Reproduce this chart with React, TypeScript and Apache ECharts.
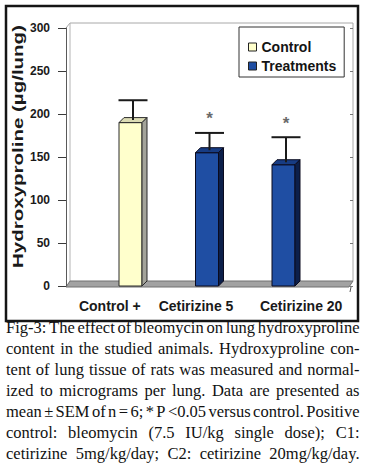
import React, { useEffect, useRef } from "react";
import * as echarts from "echarts";

const categories = ["Control +", "Cetirizine 5", "Cetirizine 20"];
const means = [190, 155, 141];
const sems = [26, 23, 32];
const significant = [false, true, true];
const groups = ["Control", "Treatments", "Treatments"];
const legendNames = ["Control", "Treatments"];
const yMin = 0;
const yMax = 300;
const yInterval = 50;
const yTitle = "Hydroxyproline (µg/lung)";
const captionLines = [
  "Fig-3: The effect of bleomycin on lung hydroxyproline",
  "content in the studied animals. Hydroxyproline con-",
  "tent of lung tissue of rats was measured and normal-",
  "ized to micrograms per lung. Data are presented as",
  "mean ± SEM of n = 6; * P <0.05 versus control. Positive",
  "control: bleomycin (7.5 IU/kg single dose); C1:",
  "cetirizine 5mg/kg/day; C2: cetirizine 20mg/kg/day.",
];

const COLORS: Record<string, { front: string; top: string; side: string; line: string }> = {
  Control: { front: "#FFFFCC", top: "#DCDCB4", side: "#A4A49A", line: "#2a2a2a" },
  Treatments: { front: "#1F4EA3", top: "#173C84", side: "#0C1F4A", line: "#0a0a1e" },
};

const SANS = "'Liberation Sans', Arial, sans-serif";
const SERIF = "'Liberation Serif', 'Times New Roman', serif";

// layout
const W = 365;
const G_LEFT = 66;
const G_RIGHT_X = 353;
const G_TOP = 28;
const G_BOTTOM_Y = 286;
const DX = 5;
const DY = -5;

let ctx: CanvasRenderingContext2D | null = null;
function measure(text: string, font: string) {
  if (!ctx) ctx = document.createElement("canvas").getContext("2d");
  if (!ctx) return text.length * 7;
  ctx.font = font;
  return ctx.measureText(text).width;
}

function buildCaption() {
  const left = 6;
  const right = 359.5;
  const avail = right - left;
  const fs = 16.5;
  const font = `${fs}px ${SERIF}`;
  const minGap = 1.2;
  const els: any[] = [];
  captionLines.forEach((ln, li) => {
    const words = ln.split(" ");
    const raw = words.map((w) => measure(w, font));
    const rawSum = raw.reduce((a, b) => a + b, 0);
    const gaps = Math.max(1, words.length - 1);
    let sx = 1;
    if (rawSum + minGap * gaps > avail) sx = (avail - minGap * gaps) / rawSum;
    const widths = raw.map((w) => w * sx);
    const sum = rawSum * sx;
    const gap = words.length > 1 ? (avail - sum) / (words.length - 1) : 0;
    let x = left;
    const y = 327 + li * 21;
    words.forEach((w, wi) => {
      els.push({
        type: "text",
        x,
        y,
        scaleX: sx,
        silent: true,
        style: {
          text: w,
          fontSize: fs,
          fontFamily: SERIF,
          fill: "#111",
          align: "left",
          verticalAlign: "middle",
        },
      });
      x += widths[wi] + gap;
    });
  });
  return els;
}

function renderBar(params: any, api: any) {
  const idx = api.value(0);
  const v = api.value(1);
  const e = api.value(2);
  const sig = api.value(3);
  const group = groups[idx];
  const c = COLORS[group];
  const top = api.coord([idx, v]);
  const base = api.coord([idx, 0]);
  const errTop = api.coord([idx, v + e]);
  const bw = 23;
  const l = top[0] - bw / 2;
  const t = top[1];
  const b = base[1];
  const cx = top[0] + DX / 2;
  const children: any[] = [
    {
      type: "rect",
      shape: { x: l, y: t, width: bw, height: b - t },
      style: { fill: c.front, stroke: c.line, lineWidth: 1 },
    },
    {
      type: "polygon",
      shape: { points: [[l, t], [l + DX, t + DY], [l + bw + DX, t + DY], [l + bw, t]] },
      style: { fill: c.top, stroke: c.line, lineWidth: 1 },
    },
    {
      type: "polygon",
      shape: { points: [[l + bw, t], [l + bw + DX, t + DY], [l + bw + DX, b + DY], [l + bw, b]] },
      style: { fill: c.side, stroke: c.line, lineWidth: 1 },
    },
    {
      type: "line",
      shape: { x1: cx, y1: t + DY / 2, x2: cx, y2: errTop[1] },
      style: { stroke: "#1a1a1a", lineWidth: 2 },
    },
    {
      type: "line",
      shape: { x1: cx - 14.5, y1: errTop[1], x2: cx + 14.5, y2: errTop[1] },
      style: { stroke: "#1a1a1a", lineWidth: 2 },
    },
  ];
  if (sig) {
    children.push({
      type: "text",
      x: cx,
      y: errTop[1] - 14,
      style: {
        text: "*",
        fontSize: 17,
        fontWeight: "bold",
        fontFamily: SANS,
        fill: "#6a6a6a",
        align: "center",
        verticalAlign: "middle",
      },
    });
  }
  return { type: "group", children };
}

function buildOption() {
  const series = legendNames.map((name) => ({
    name,
    type: "custom",
    xAxisIndex: 1,
    yAxisIndex: 1,
    renderItem: renderBar,
    encode: { x: 0, y: 1 },
    itemStyle: { color: COLORS[name].front, borderColor: COLORS[name].line, borderWidth: 1 },
    data: categories
      .map((_, i) => [i, means[i], sems[i], significant[i] ? 1 : 0])
      .filter((d) => groups[d[0] as number] === name),
  }));

  const titleFont = `bold 14px ${SANS}`;
  const titleW = measure(yTitle, titleFont);
  const titleScale = 243 / titleW;

  const graphic: any[] = [
    {
      type: "rect",
      shape: { x: 6, y: 6, width: 352, height: 315 },
      style: { fill: "none", stroke: "#151515", lineWidth: 2.5 },
      silent: true,
    },
    // back wall
    {
      type: "polyline",
      shape: {
        points: [
          [G_LEFT, G_TOP],
          [G_LEFT + 4, G_TOP + DY],
          [G_RIGHT_X, G_TOP + DY],
          [G_RIGHT_X, G_BOTTOM_Y + DY],
        ],
      },
      style: { fill: "none", stroke: "#a8a8a8", lineWidth: 1 },
      silent: true,
    },
    {
      type: "line",
      shape: { x1: G_LEFT + 4, y1: G_TOP + DY, x2: G_LEFT + 4, y2: G_BOTTOM_Y + DY },
      style: { stroke: "#b4b4b4", lineWidth: 1 },
      silent: true,
    },
    // floor
    {
      type: "polygon",
      shape: {
        points: [
          [G_LEFT, G_BOTTOM_Y + 1],
          [G_LEFT + 4, G_BOTTOM_Y + DY],
          [G_RIGHT_X, G_BOTTOM_Y + DY],
          [G_RIGHT_X - 4, G_BOTTOM_Y + 1],
        ],
      },
      style: { fill: "#a2a2a2", stroke: "#707070", lineWidth: 1 },
      silent: true,
    },
    {
      type: "line",
      shape: { x1: G_RIGHT_X - 2, y1: G_BOTTOM_Y + 1, x2: G_RIGHT_X - 3, y2: G_BOTTOM_Y + 6 },
      style: { stroke: "#555", lineWidth: 1 },
      silent: true,
    },
    {
      type: "text",
      x: 18.5,
      y: 146.5,
      rotation: Math.PI / 2,
      scaleX: titleScale,
      silent: true,
      style: {
        text: yTitle,
        fontSize: 14,
        fontWeight: "bold",
        fontFamily: SANS,
        fill: "#1a1a1a",
        align: "center",
        verticalAlign: "middle",
      },
    },
    ...buildCaption(),
  ];

  const gridCommon = { top: G_TOP, bottom: 473 - G_BOTTOM_Y, containLabel: false };
  return {
    animation: false,
    backgroundColor: "#ffffff",
    grid: [
      { ...gridCommon, left: G_LEFT, right: W - G_RIGHT_X },
      { ...gridCommon, left: 92.25, right: W - 321.75 },
    ],
    legend: {
      left: 239,
      top: 27,
      orient: "vertical",
      padding: [13, 8, 4, 9],
      itemGap: 5,
      itemWidth: 8,
      itemHeight: 8,
      icon: "rect",
      borderColor: "#333",
      borderWidth: 1,
      backgroundColor: "#fff",
      selectedMode: false,
      textStyle: {
        fontFamily: SANS,
        fontWeight: "bold",
        fontSize: 14,
        color: "#141414",
        lineHeight: 14,
      },
      data: legendNames.map((n) => ({
        name: n,
        itemStyle: { color: COLORS[n].front, borderColor: "#222", borderWidth: 1 },
      })),
    },
    xAxis: [
      {
        type: "category",
        gridIndex: 0,
        data: categories.map((c, i) => ({
          value: c,
          textStyle: { padding: [0, i === 1 ? 27 : 8, 0, 0] },
        })),
        axisLine: { show: false },
        axisTick: { show: false },
        axisLabel: {
          interval: 0,
          margin: 13,
          fontFamily: SANS,
          fontWeight: "bold",
          fontSize: 14,
          color: "#1a1a1a",
        },
      },
      {
        type: "category",
        gridIndex: 1,
        data: categories,
        show: false,
      },
    ],
    yAxis: [
      {
        type: "value",
        gridIndex: 0,
        min: yMin,
        max: yMax,
        interval: yInterval,
        axisLine: { show: true, lineStyle: { color: "#5a5a5a", width: 1 } },
        axisTick: { show: true, length: 8, lineStyle: { color: "#3a3a3a", width: 1 } },
        axisLabel: {
          margin: 16,
          fontFamily: SANS,
          fontWeight: "bold",
          fontSize: 12,
          color: "#1a1a1a",
        },
        splitLine: { show: false },
      },
      {
        type: "value",
        gridIndex: 1,
        min: yMin,
        max: yMax,
        interval: yInterval,
        show: false,
        splitLine: { show: false },
      },
      {
        type: "value",
        gridIndex: 0,
        position: "right",
        min: yMin,
        max: yMax,
        interval: yInterval,
        axisLine: { show: false },
        axisTick: { show: true, inside: true, length: 3, lineStyle: { color: "#777" } },
        axisLabel: { show: false },
        splitLine: { show: false },
      },
    ],
    graphic,
    series,
  };
}

export default function App() {
  const ref = useRef<HTMLDivElement>(null);
  useEffect(() => {
    if (!ref.current) return;
    const chart = echarts.init(ref.current, null, { renderer: "svg" });
    chart.setOption(buildOption() as any);
    return () => chart.dispose();
  }, []);
  return (
    <div
      ref={ref}
      style={{ position: "fixed", left: 0, top: 0, width: 365, height: 473, background: "#fff" }}
    />
  );
}
